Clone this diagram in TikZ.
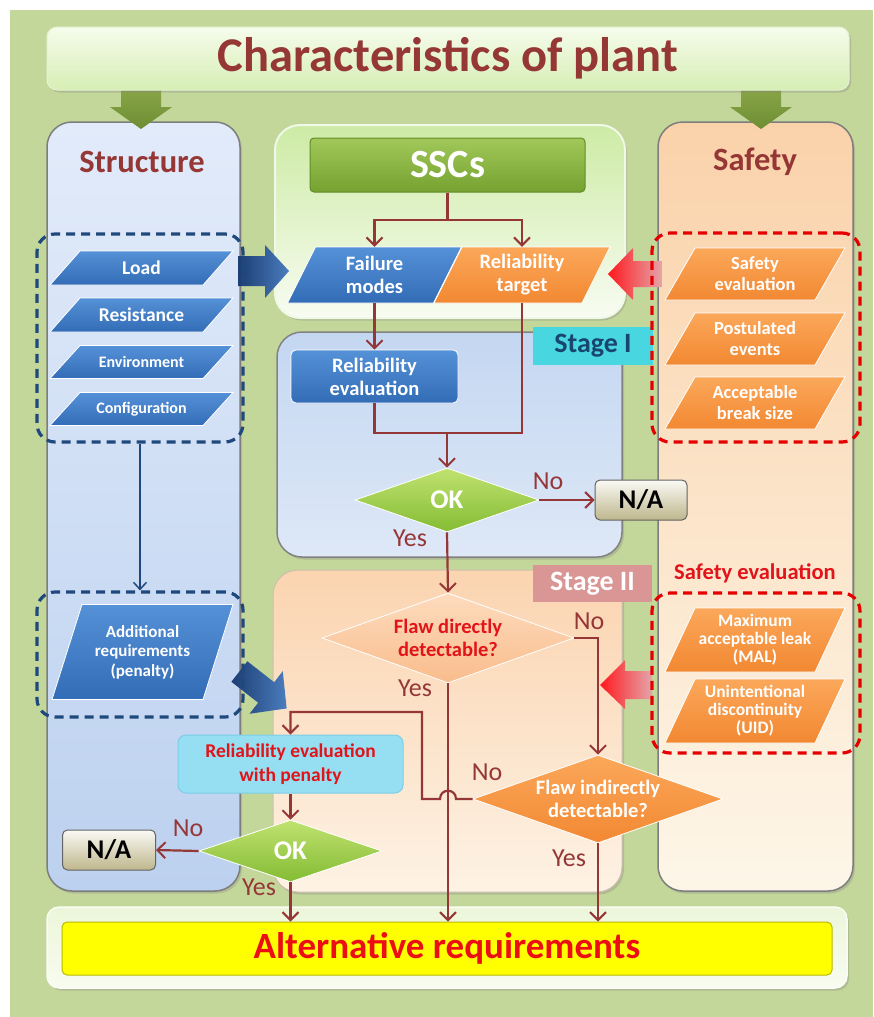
\documentclass[tikz,border=0pt]{standalone}
\usepackage{fontspec}
\setmainfont{Carlito}
\usetikzlibrary{arrows.meta,shapes.geometric,shadows}

\definecolor{bggreen}{RGB}{196,215,155}
\definecolor{titlered}{RGB}{149,55,53}
\definecolor{cline}{RGB}{150,55,55}
\definecolor{arrgreenT}{RGB}{140,170,75}
\definecolor{arrgreenB}{RGB}{110,140,50}
\definecolor{pblueT}{RGB}{85,145,215}
\definecolor{pblueB}{RGB}{50,108,182}
\definecolor{porangeT}{RGB}{251,168,90}
\definecolor{porangeB}{RGB}{242,136,50}
\definecolor{dblue}{RGB}{31,73,125}
\definecolor{dred}{RGB}{228,0,0}
\definecolor{txtred}{RGB}{225,20,25}

\newcommand\fszA{\bfseries\fontsize{19.5}{22}\selectfont}
\newcommand\fszB{\bfseries\fontsize{16}{18}\selectfont}
\newcommand\fszC{\bfseries\fontsize{18.5}{21}\selectfont}
\newcommand\fszD{\bfseries\fontsize{17.5}{18}\selectfont}
\newcommand\fszE{\bfseries\fontsize{20.5}{23}\selectfont}
\newcommand\fszF{\bfseries\fontsize{17}{19.5}\selectfont}

% name, cx, cy, w, h, slant, colour prefix, font, text
\newcommand\pgram[9]{%
  \path[pgshape=#7] ({#2-#4/2-#6/2},{#3+#5/2}) -- ({#2-#4/2+#6/2},{#3-#5/2})
     -- ({#2+#4/2+#6/2},{#3-#5/2}) -- ({#2+#4/2-#6/2},{#3+#5/2}) -- cycle;
  \node[pgtext, font=#8, minimum height=#5pt] (#1) at (#2,#3) {#9};}

\begin{document}
\begin{tikzpicture}[x=1pt,y=-1pt,
  conn/.style={draw=cline,line width=2.2pt},
  arr/.style={-{Straight Barb[length=8pt,width=16pt,line width=2pt]}},
  shad/.style={drop shadow={opacity=0.3,shadow xshift=2pt,shadow yshift=-2.5pt}},
  pgshape/.style={top color=#1T,bottom color=#1B,draw=white,line width=0.8pt},
  pgtext/.style={text=white,align=center,inner sep=0pt},
  dashbox/.style={draw=#1,line width=3.2pt,dash pattern=on 9pt off 6pt,rounded corners=18pt,inner sep=0pt},
  bluebox/.style={rectangle,rounded corners=5pt,top color=pblueT,bottom color=pblueB,draw=white,line width=0.8pt,text=white,align=center,font=\fszE},
  okd/.style={diamond,aspect=2.9,inner sep=0pt,top color={rgb,255:red,192;green,226;blue,112},bottom color={rgb,255:red,132;green,188;blue,52},draw=white,line width=0.8pt,text=white,font=\bfseries\fontsize{27}{27}\selectfont},
  nabox/.style={rectangle,rounded corners=5pt,top color={rgb,255:red,250;green,250;blue,245},bottom color={rgb,255:red,190;green,182;blue,140},draw={rgb,255:red,100;green,100;blue,100},line width=1pt,text=black,font=\bfseries\fontsize{27}{27}\selectfont,inner sep=0pt},
  lbl/.style={text=cline,font=\fontsize{26}{26}\selectfont,inner sep=0pt},
  coltitle/.style={text=titlered,font=\bfseries\fontsize{32.5}{32.5}\selectfont,inner sep=0pt}
]
\useasboundingbox (0,0) rectangle (873,1017);
\fill[white] (0,0) rectangle (873,1017);
\fill[bggreen] (10,10) rectangle (873,1017);

% columns and panels
\draw[shad,rounded corners=25pt,draw={rgb,255:red,125;green,125;blue,125},line width=1.5pt,
  top color={rgb,255:red,226;green,235;blue,250},bottom color={rgb,255:red,188;green,209;blue,239}]
  (47,122) rectangle (240,891);
\draw[shad,rounded corners=25pt,draw={rgb,255:red,125;green,125;blue,125},line width=1.5pt,
  top color={rgb,255:red,250;green,210;blue,170},bottom color={rgb,255:red,253;green,246;blue,232}]
  (658,122) rectangle (853,891);
\draw[shad,rounded corners=25pt,draw={rgb,255:red,240;green,248;blue,232},line width=2pt,
  top color={rgb,255:red,205;green,235;blue,165},bottom color={rgb,255:red,248;green,252;blue,242}]
  (275,125) rectangle (625,318);
\draw[shad,rounded corners=25pt,draw={rgb,255:red,130;green,130;blue,130},line width=1.5pt,
  top color={rgb,255:red,196;green,215;blue,241},bottom color={rgb,255:red,222;green,232;blue,247}]
  (277,332) rectangle (622,557);
\draw[shad,rounded corners=25pt,draw={rgb,255:red,205;green,190;blue,175},line width=1pt,
  top color={rgb,255:red,251;green,212;blue,176},bottom color={rgb,255:red,253;green,242;blue,228}]
  (273,570) rectangle (622,892);
\draw[shad,rounded corners=12pt,draw={rgb,255:red,250;green,252;blue,245},line width=1.5pt,
  top color={rgb,255:red,236;green,246;blue,218},bottom color={rgb,255:red,248;green,252;blue,240}]
  (47,907) rectangle (847,988);

% green arrows from the top box
\shade[top color=arrgreenT,bottom color=arrgreenB]
  (121,83) -- (161,83) -- (161,107) -- (172,107) -- (141,129) -- (110,107) -- (121,107) -- cycle;
\shade[top color=arrgreenT,bottom color=arrgreenB]
  (741,83) -- (781,83) -- (781,107) -- (792,107) -- (761,129) -- (730,107) -- (741,107) -- cycle;

% title box
\node[shad,rounded corners=10pt,draw={rgb,255:red,230;green,242;blue,210},line width=1pt,
  top color={rgb,255:red,246;green,252;blue,236},bottom color={rgb,255:red,214;green,238;blue,180},
  minimum width=802pt,minimum height=63pt,text=titlered,
  font=\bfseries\fontsize{48.5}{48.5}\selectfont] (top) at (448,58.5) {Characteristics of plant};

% column titles
\node[coltitle] (structt) at (142,162) {Structure};
\node[coltitle] (safet) at (755,162) {Safety};
\node[text=txtred,font=\bfseries\fontsize{22.5}{22.5}\selectfont,inner sep=0pt] (safeev) at (755,573) {Safety evaluation};

% stage labels
\node[fill={rgb,255:red,72;green,214;blue,224},minimum width=120pt,minimum height=38pt,inner sep=0pt,
  text={rgb,255:red,25;green,70;blue,110},font=\bfseries\fontsize{28}{28}\selectfont] (st1) at (593,346) {Stage I};
\node[fill={rgb,255:red,217;green,150;blue,148},minimum width=119pt,minimum height=37pt,inner sep=0pt,
  text=white,font=\bfseries\fontsize{28}{28}\selectfont] (st2) at (592.5,583.5) {Stage II};

% block arrows
\shade[left color={rgb,255:red,28;green,62;blue,115},right color={rgb,255:red,75;green,125;blue,190}]
  (238,256) -- (265,256) -- (265,245) -- (289,271) -- (265,298) -- (265,286) -- (238,286) -- cycle;
\shade[left color={rgb,255:red,255;green,25;blue,30},right color={rgb,255:red,228;green,165;blue,170}]
  (662,261) -- (633,261) -- (633,248) -- (608,274) -- (633,300) -- (633,287) -- (662,287) -- cycle;
\shade[left color={rgb,255:red,255;green,25;blue,30},right color={rgb,255:red,228;green,165;blue,170}]
  (652,671) -- (625,671) -- (625,660) -- (600,685) -- (625,709) -- (625,699) -- (652,699) -- cycle;
\begin{scope}[shift={(263,690)},rotate=-38]
\shade[left color={rgb,255:red,28;green,62;blue,115},right color={rgb,255:red,75;green,125;blue,190}]
  (-30,-13) -- (4,-13) -- (4,-27) -- (30,0) -- (4,27) -- (4,13) -- (-30,13) -- cycle;
\end{scope}

% dashed groups
\node[dashbox=dblue,minimum width=206pt,minimum height=208pt] (db1) at (140,338) {};
\node[dashbox=dblue,minimum width=206pt,minimum height=125pt] (db2) at (140,654.5) {};
\node[dashbox=dred,minimum width=208pt,minimum height=209pt] (dr1) at (756,337.5) {};
\node[dashbox=dred,minimum width=208pt,minimum height=160pt] (dr2) at (756,673) {};

% parallelograms
\pgram{load}{141.5}{268}{153}{34}{30}{pblue}{\fszA}{Load}
\pgram{resist}{141.5}{315}{153}{34}{30}{pblue}{\fszA}{Resistance}
\pgram{env}{141.5}{362}{153}{33}{30}{pblue}{\fszB}{Environment}
\pgram{config}{141.5}{409}{153}{33}{30}{pblue}{\fszB}{Configuration}
\pgram{addreq}{142.5}{652}{151}{95}{30}{pblue}{\fszF}{Additional\\requirements\\(penalty)}
\pgram{fm}{374.5}{275}{146}{56}{28}{pblue}{\fszE}{Failure\\modes}
\pgram{rt}{522}{275}{148}{56}{28}{porange}{\fszE}{Reliability\\target}
\pgram{seval}{755}{274}{150}{52}{30}{porange}{\fszC}{Safety\\evaluation}
\pgram{postev}{755}{339}{150}{52}{30}{porange}{\fszC}{Postulated\\events}
\pgram{abs}{755}{403}{150}{52}{30}{porange}{\fszC}{Acceptable\\break size}
\pgram{mal}{755}{640}{150}{64}{30}{porange}{\fszD}{Maximum\\acceptable leak\\(MAL)}
\pgram{uid}{755}{711}{150}{64}{30}{porange}{\fszD}{Unintentional\\discontinuity\\(UID)}

% flow nodes
\node[rectangle,rounded corners=4pt,top color={rgb,255:red,160;green,200;blue,90},bottom color={rgb,255:red,118;green,162;blue,48},
  draw={rgb,255:red,100;green,140;blue,40},line width=1pt,minimum width=275pt,minimum height=54pt,text=white,
  font=\bfseries\fontsize{40}{40}\selectfont] (ssc) at (447.5,165) {SSCs};
\node[bluebox,minimum width=167pt,minimum height=53pt,inner sep=0pt] (rev) at (374.5,376.5) {Reliability\\evaluation};
\node[okd,minimum width=184pt,minimum height=64pt] (ok1) at (447,500) {OK};
\node[nabox,minimum width=92pt,minimum height=40pt] (na1) at (641,500) {N/A};
\node[diamond,aspect=2.8,inner sep=0pt,top color={rgb,255:red,253;green,220;blue,190},bottom color={rgb,255:red,249;green,188;blue,140},
  draw=white,line width=0.8pt,minimum width=252pt,minimum height=90pt,text=txtred,align=center,font=\fszE] (fd) at (448,638) {Flaw directly\\detectable?};
\node[diamond,aspect=2.84,inner sep=0pt,top color=porangeT,bottom color=porangeB,
  draw=white,line width=0.8pt,minimum width=250pt,minimum height=88pt,text=white,align=center,font=\fszE] (fi) at (598,799) {Flaw indirectly\\detectable?};
\node[rectangle,rounded corners=8pt,fill={rgb,255:red,150;green,222;blue,242},draw={rgb,255:red,125;green,205;blue,232},line width=1pt,
  minimum width=225pt,minimum height=58pt,inner sep=0pt,text=txtred,align=center,
  font=\bfseries\fontsize{19.5}{24}\selectfont] (rep) at (290.5,764) {Reliability evaluation\\with penalty};
\node[okd,minimum width=183pt,minimum height=62pt] (ok2) at (290.5,851) {OK};
\node[nabox,minimum width=93pt,minimum height=40pt] (na2) at (109,850) {N/A};
\node[rectangle,rounded corners=5pt,fill={rgb,255:red,255;green,255;blue,0},draw={rgb,255:red,185;green,185;blue,0},line width=1pt,
  minimum width=770pt,minimum height=53pt,text={rgb,255:red,235;green,15;blue,20},
  font=\bfseries\fontsize{37}{37}\selectfont] (alt) at (447,948.5) {Alternative requirements};

% connectors
\coordinate (br) at (447.5,220);
\coordinate (m1) at (447,433);
\coordinate (j1) at (290.5,712);
\draw[conn] (ssc.south) -- (br);
\draw[conn,arr] (br) -| (fm.north);
\draw[conn,arr] (br) -| (rt.north);
\draw[conn,arr] (fm.south) -- (rev.north);
\draw[conn] (rev.south) |- (m1);
\draw[conn] (rt.south) |- (m1);
\draw[conn,arr] (m1) -- (ok1.north);
\draw[conn,arr] (ok1.east) -- (na1.west);
\draw[conn,arr] (ok1.south) -- (fd.north);
\draw[conn,arr] (fd.east) -| (fi.north);
\draw[conn,arr] (fd.south) -- (fd.south |- alt.north);
\draw[conn,arr] (fi.west) -- (456,799) .. controls (456,788) and (440,788) .. (440,799) -- (422,799) |- (j1) -- (rep.north);
\draw[conn,arr] (rep.south) -- (ok2.north);
\draw[conn,arr] (ok2.west) -- (na2.east);
\draw[conn,arr] (ok2.south) -- (ok2.south |- alt.north);
\draw[conn,arr] (fi.south) -- (fi.south |- alt.north);
\draw[draw=dblue,line width=1.6pt,-{Straight Barb[length=7pt,width=13pt,line width=1.5pt]}] (db1.south) -- (db2.north);

% branch labels
\node[lbl] (no1) at (548,481) {No};
\node[lbl] (yes1) at (410,538) {Yes};
\node[lbl] (no2) at (589,621) {No};
\node[lbl] (yes2) at (415,688) {Yes};
\node[lbl] (no3) at (487,772) {No};
\node[lbl] (yes3) at (569,858) {Yes};
\node[lbl] (no4) at (188,828) {No};
\node[lbl] (yes4) at (259,887) {Yes};
\end{tikzpicture}
\end{document}
